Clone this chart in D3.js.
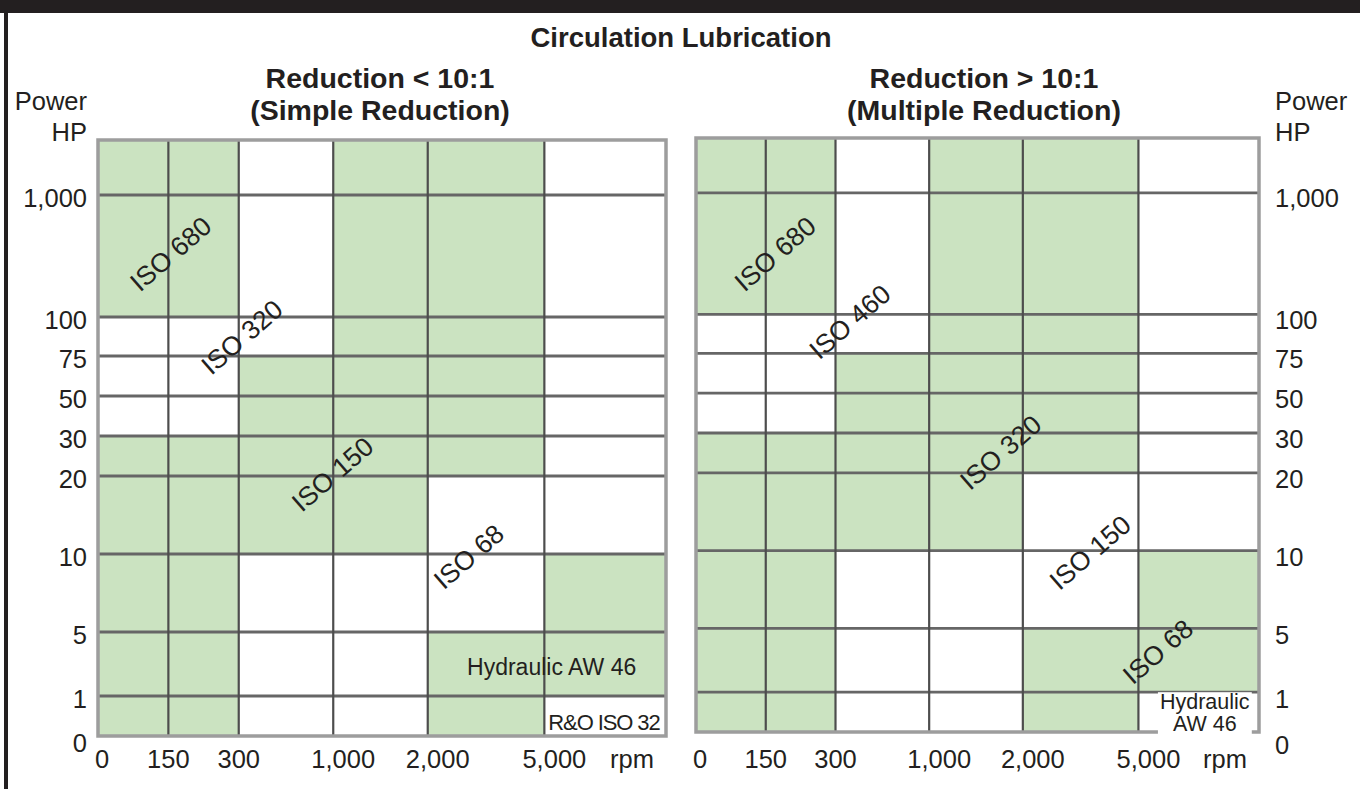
<!DOCTYPE html>
<html>
<head>
<meta charset="utf-8">
<script src="https://cdn.jsdelivr.net/npm/d3@7"></script>
<style>
  body { margin: 0; background: #fff; }
  svg { display: block; }
  text { font-family: "Liberation Sans", Arial, Helvetica, sans-serif; fill: #231f20; }
</style>
</head>
<body>
<svg id="chart" width="1360" height="789"></svg>
<script>
// ---------------- DATA ----------------
const mainTitle = "Circulation Lubrication";
const rpmTicks = ["0", "150", "300", "1,000", "2,000", "5,000"];
const rpmUnit = "rpm";
const hpTicks = ["0", "1", "5", "10", "20", "30", "50", "75", "100", "1,000"];
const hpTitle = ["Power", "HP"];
const simpleTitle = ["Reduction < 10:1", "(Simple Reduction)"];
const multipleTitle = ["Reduction > 10:1", "(Multiple Reduction)"];
// rows from bottom (0-1 HP) to top (above 1,000 HP); columns 0-150 rpm ... above 5,000 rpm
// 1 = shaded (green) zone, 0 = white zone
const simpleCells = [
  [1, 1, 0, 0, 1, 0],
  [1, 1, 0, 0, 1, 1],
  [1, 1, 0, 0, 0, 1],
  [1, 1, 1, 1, 0, 0],
  [1, 1, 1, 1, 1, 0],
  [0, 0, 1, 1, 1, 0],
  [0, 0, 1, 1, 1, 0],
  [0, 0, 0, 1, 1, 0],
  [1, 1, 0, 1, 1, 0],
  [1, 1, 0, 1, 1, 0]
];
const multipleCells = [
  [1, 1, 0, 0, 1, 0],
  [1, 1, 0, 0, 1, 1],
  [1, 1, 0, 0, 0, 1],
  [1, 1, 1, 1, 0, 0],
  [1, 1, 1, 1, 1, 0],
  [0, 0, 1, 1, 1, 0],
  [0, 0, 1, 1, 1, 0],
  [0, 0, 0, 1, 1, 0],
  [1, 1, 0, 1, 1, 0],
  [1, 1, 0, 1, 1, 0]
];
// zone labels, anchored in (column, row) grid units
const simpleZones = ["ISO 680", "ISO 320", "ISO 150", "ISO 68"];
const simpleZoneAt = [[1.03, 8.52], [2.03, 7.49], [2.99, 4.05], [4.35, 2.97]];
const multipleZones = ["ISO 680", "ISO 460", "ISO 320", "ISO 150", "ISO 68"];
const multipleZoneAt = [[1.13, 8.50], [2.15, 7.82], [3.76, 4.52], [4.58, 2.98], [5.16, 1.64]];
const simpleNotes = [{ lines: ["Hydraulic AW 46"], at: [5.06, 1.45], box: false },
                     { lines: ["R&O ISO 32"], at: [5.49, 0.36], box: true }];
const multipleNotes = [{ lines: ["Hydraulic", "AW 46"], at: [5.55, 0.49], box: true }];

// ---------------- LAYOUT / STYLE ----------------
const W = 1360, H = 789;
const colWeights = [70, 70, 94, 94, 116, 121];
const rowWeights = [40, 64, 78, 78, 40, 40, 40, 39, 122, 55];
const GREEN = "#cbe3c1";
const INK = "#231f20";

const svg = d3.select("#chart");
svg.append("rect").attr("width", W).attr("height", H).attr("fill", "#fff");

function cumul(weights, a, b) {
  const tot = d3.sum(weights);
  let acc = 0;
  const out = [a];
  weights.forEach(w => { acc += w; out.push(a + (b - a) * acc / tot); });
  return out;
}

function panel(cfg) {
  const x = d3.scaleLinear().domain(d3.range(colWeights.length + 1)).range(cumul(colWeights, cfg.x0, cfg.x1));
  const y = d3.scaleLinear().domain(d3.range(rowWeights.length + 1)).range(cumul(rowWeights, cfg.y0, cfg.y1));
  const g = svg.append("g");

  const cells = [];
  cfg.cells.forEach((row, r) => row.forEach((v, c) => cells.push({ r, c, v })));
  g.selectAll("rect.cell").data(cells).join("rect")
    .attr("class", "cell")
    .attr("x", d => x(d.c)).attr("y", d => y(d.r + 1))
    .attr("width", d => x(d.c + 1) - x(d.c)).attr("height", d => y(d.r) - y(d.r + 1))
    .attr("fill", d => d.v ? GREEN : "#fff");

  // interior grid lines
  g.selectAll("line.h").data(d3.range(1, rowWeights.length)).join("line")
    .attr("x1", x(0)).attr("x2", x(colWeights.length))
    .attr("y1", d => y(d)).attr("y2", d => y(d))
    .attr("stroke", "#666").attr("stroke-width", 2.8);
  g.selectAll("line.v").data(d3.range(1, colWeights.length)).join("line")
    .attr("y1", y(0)).attr("y2", y(rowWeights.length))
    .attr("x1", d => x(d)).attr("x2", d => x(d))
    .attr("stroke", "#4d4d4d").attr("stroke-width", 2.2);
  // frame
  g.append("rect")
    .attr("x", x(0)).attr("y", y(rowWeights.length))
    .attr("width", x(colWeights.length) - x(0)).attr("height", y(0) - y(rowWeights.length))
    .attr("fill", "none").attr("stroke", "#9d9d9d").attr("stroke-width", 3.5);

  // x tick labels
  g.selectAll("text.xt").data(rpmTicks).join("text")
    .attr("x", (d, i) => x(i) + (i === 0 ? 4 : (d.includes(",") ? 10 : 0)))
    .attr("y", 768)
    .attr("text-anchor", "middle").attr("font-size", 25.5)
    .text(d => d);
  g.append("text").attr("x", x(colWeights.length) - 34).attr("y", 768)
    .attr("text-anchor", "middle").attr("font-size", 25.5).text(rpmUnit);

  // title
  cfg.title.forEach((t, i) => {
    g.append("text").attr("x", cfg.titleX).attr("y", 88 + i * 32)
      .attr("text-anchor", "middle").attr("font-size", 28.5).attr("font-weight", "bold").text(t);
  });

  // zone labels
  cfg.zones.forEach((t, i) => {
    const [c, r] = cfg.zoneAt[i];
    g.append("text")
      .attr("transform", `translate(${x(c)},${y(r)}) rotate(-41)`)
      .attr("text-anchor", "middle").attr("dy", "0.36em")
      .attr("font-size", 26.5).text(t);
  });

  // notes
  cfg.notes.forEach(n => {
    const cx = x(n.at[0]), cy = y(n.at[1]);
    const fs = n.lines.length > 1 ? 21.5 : (n.box ? 22 : 23);
    const lh = 22;
    const ng = g.append("g");
    n.lines.forEach((t, i) => ng.append("text")
      .attr("x", cx).attr("y", cy + (i - (n.lines.length - 1) / 2) * lh)
      .attr("dy", "0.36em").attr("text-anchor", "middle").attr("font-size", fs)
      .attr("letter-spacing", n.box && n.lines.length === 1 ? -1.1 : 0)
      .text(t));
    if (n.box) {
      const bb = ng.node().getBBox();
      ng.insert("rect", "text").attr("x", bb.x - 2).attr("y", bb.y + 2)
        .attr("width", bb.width + 4).attr("height", bb.height - 3).attr("fill", "#fff");
    }
  });
  return { x, y };
}

const L = panel({ x0: 98, x1: 666, y0: 736, y1: 140, cells: simpleCells, title: simpleTitle, titleX: 380,
  zones: simpleZones, zoneAt: simpleZoneAt, notes: simpleNotes });
const R = panel({ x0: 696, x1: 1259, y0: 732, y1: 138, cells: multipleCells, title: multipleTitle, titleX: 984,
  zones: multipleZones, zoneAt: multipleZoneAt, notes: multipleNotes });

// y tick labels (both sides share the left panel's rows)
const yLab = L.y;
svg.selectAll("text.yl").data(hpTicks).join("text")
  .attr("x", 87).attr("y", (d, i) => yLab(i) + (i === 0 ? 7 : 3) + 9)
  .attr("text-anchor", "end").attr("font-size", 25.5).text(d => d);
svg.selectAll("text.yr").data(hpTicks).join("text")
  .attr("x", 1275).attr("y", (d, i) => yLab(i) + (i === 0 ? 9 : 3) + 9)
  .attr("text-anchor", "start").attr("font-size", 25.5).text(d => d);
hpTitle.forEach((t, i) => {
  svg.append("text").attr("x", 87).attr("y", 110 + i * 31).attr("text-anchor", "end").attr("font-size", 25.5).text(t);
  svg.append("text").attr("x", 1275).attr("y", 110 + i * 31).attr("text-anchor", "start").attr("font-size", 25.5).text(t);
});

// main title
svg.append("text").attr("x", 681).attr("y", 47).attr("text-anchor", "middle")
  .attr("font-size", 27.5).attr("font-weight", "bold").text(mainTitle);

// page frame (black band on top, black rule on the left)
svg.append("rect").attr("x", 0).attr("y", 0).attr("width", W).attr("height", 13).attr("fill", INK);
svg.append("rect").attr("x", 4).attr("y", 0).attr("width", 4).attr("height", H).attr("fill", INK);
</script>
</body>
</html>
